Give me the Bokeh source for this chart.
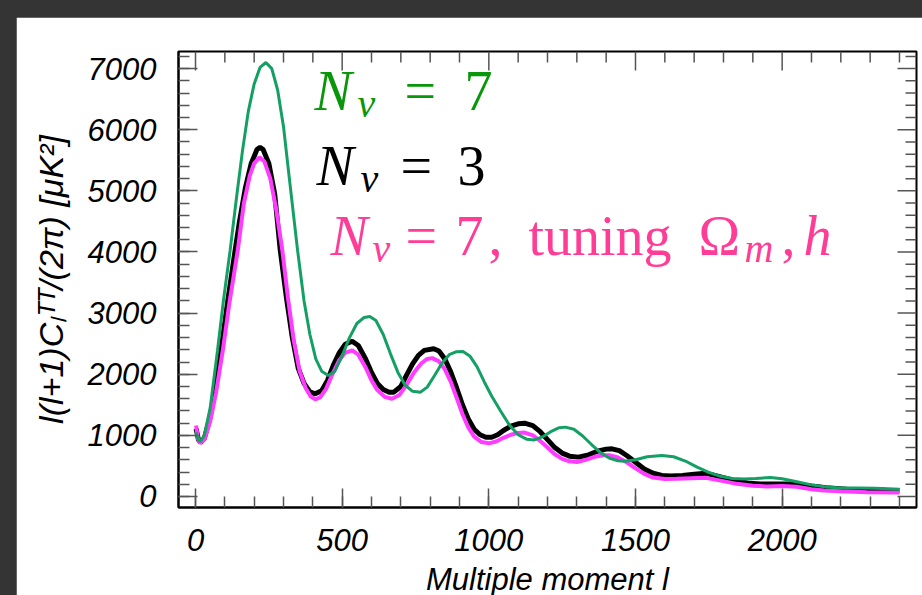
import numpy as np
from bokeh.plotting import figure
from bokeh.models import SingleIntervalTicker, Label, Range1d
from bokeh.embed import file_html
from bokeh.resources import INLINE

# ---------------- data ----------------
l_black = [2, 10, 17, 30, 50, 70, 87, 110, 135, 150, 170, 190, 210, 220, 230, 250, 270, 289, 310, 330,
           350, 370, 390, 408, 430, 450, 470, 490, 510, 534, 555, 580, 600, 620, 640, 660, 676, 700,
           720, 740, 760, 780, 812, 830, 850, 870, 890, 910, 930, 950, 970, 990, 1010, 1030, 1050,
           1075, 1100, 1122, 1150, 1175, 1200, 1225, 1250, 1275, 1305, 1340, 1370, 1400, 1420, 1445,
           1470, 1500, 1530, 1560, 1590, 1620, 1660, 1700, 1740, 1790, 1840, 1890, 1925, 1980, 2040,
           2100, 2150, 2220, 2290, 2350, 2400]
c_black = [1110, 930, 880, 950, 1300, 1850, 2390, 3200, 4026, 4500, 5050, 5450, 5680, 5710, 5680, 5450,
           4950, 4026, 3250, 2600, 2100, 1850, 1710, 1680, 1730, 1900, 2150, 2350, 2490, 2540, 2470,
           2250, 2030, 1850, 1750, 1705, 1707, 1800, 1990, 2170, 2310, 2390, 2417, 2380, 2250, 2040,
           1780, 1500, 1270, 1100, 1010, 970, 970, 1010, 1080, 1150, 1190, 1200, 1160, 1060, 930, 800,
           710, 660, 644, 680, 740, 775, 780, 750, 670, 560, 450, 380, 345, 335, 345, 365, 380, 320,
           260, 215, 205, 205, 205, 170, 142, 120, 110, 102, 98]

l_tuned = [2, 8, 15, 30, 50, 70, 93, 115, 144, 165, 185, 200, 218, 235, 255, 275, 296, 315, 335, 355,
           375, 392, 408, 425, 445, 465, 490, 510, 534, 555, 580, 600, 620, 645, 670, 695, 720, 745,
           770, 790, 807, 830, 850, 870, 890, 910, 930, 950, 975, 1000, 1025, 1050, 1075, 1100, 1122,
           1150, 1175, 1200, 1225, 1250, 1275, 1301, 1330, 1360, 1390, 1410, 1440, 1470, 1500, 1530,
           1560, 1600, 1640, 1690, 1740, 1790, 1846, 1900, 1948, 2000, 2050, 2100, 2142, 2200, 2289,
           2400]
c_tuned = [1160, 950, 870, 930, 1230, 1700, 2390, 3150, 4026, 4800, 5250, 5450, 5550, 5480, 5200, 4700,
           4026, 3250, 2550, 2050, 1780, 1640, 1590, 1620, 1760, 1980, 2230, 2350, 2390, 2320, 2110,
           1900, 1740, 1630, 1599, 1660, 1830, 2030, 2180, 2250, 2264, 2210, 2080, 1880, 1620, 1350,
           1130, 980, 890, 870, 900, 960, 1010, 1040, 1045, 1000, 910, 800, 690, 615, 575, 565, 600,
           650, 675, 675, 640, 560, 460, 370, 310, 285, 290, 300, 305, 260, 207, 175, 164, 170, 160,
           120, 98, 85, 70, 65]

l_seven = [2, 10, 17, 30, 50, 75, 95, 118, 140, 160, 180, 200, 220, 240, 260, 280, 300, 320, 348, 370,
           390, 410, 430, 453, 475, 500, 525, 550, 575, 594, 615, 640, 665, 690, 715, 740, 767, 790,
           815, 840, 865, 890, 912, 935, 960, 985, 1010, 1040, 1070, 1100, 1130, 1155, 1185, 1215,
           1240, 1261, 1290, 1320, 1350, 1380, 1410, 1440, 1465, 1500, 1540, 1590, 1630, 1670, 1710,
           1750, 1790, 1830, 1870, 1910, 1960, 2000, 2050, 2100, 2150, 2200, 2260, 2320, 2400]
c_seven = [1050, 920, 900, 1000, 1450, 2390, 3200, 4026, 4900, 5650, 6300, 6750, 7020, 7100, 7000, 6650,
           6050, 5200, 4026, 3200, 2650, 2250, 2050, 1980, 2050, 2300, 2600, 2830, 2930, 2946, 2880,
           2650, 2330, 2030, 1820, 1720, 1707, 1790, 1980, 2180, 2320, 2370, 2373, 2300, 2120, 1870,
           1640, 1400, 1170, 1010, 935, 925, 980, 1070, 1125, 1135, 1100, 990, 850, 720, 630, 585,
           575, 600, 650, 671, 650, 580, 480, 395, 330, 295, 285, 295, 310, 290, 240, 190, 155, 140,
           140, 135, 118]

x_interval = 500
y_interval = 1000
x_minor_step = 100
y_minor_step = 200
x_lo, x_hi = -58, 2458
y_lo, y_hi = -180, 7280

x_label_text = "Multiple moment l"
y_label_text = "l(l+1)C\u2097\u1d40\u1d40/(2\u03c0) [\u03bcK\u00b2]"

# ---------------- figure ----------------
FONT = "Liberation Sans"
SERIF = "Liberation Serif"
TICK_COLOR = "#555555"

p = figure(width=906, height=590, output_backend="svg", toolbar_location=None,
           x_range=Range1d(x_lo, x_hi), y_range=Range1d(y_lo, y_hi),
           min_border_left=162, min_border_right=6, min_border_top=34, min_border_bottom=100,
           background_fill_color="white", border_fill_color="white")
p.xgrid.visible = False
p.ygrid.visible = False
p.outline_line_color = "black"
p.outline_line_width = 2

for ax, interval in ((p.xaxis[0], x_interval), (p.yaxis[0], y_interval)):
    ax.ticker = SingleIntervalTicker(interval=interval, num_minor_ticks=5)
    ax.axis_line_color = "black"
    ax.axis_line_width = 2
    ax.major_tick_in = 19
    ax.major_tick_out = 0
    ax.minor_tick_in = 11
    ax.minor_tick_out = 0
    ax.major_tick_line_color = TICK_COLOR
    ax.minor_tick_line_color = TICK_COLOR
    ax.major_tick_line_width = 1.5
    ax.minor_tick_line_width = 1.5
    ax.major_label_text_font = FONT
    ax.major_label_text_font_style = "italic"
    ax.major_label_text_font_size = "31px"
    ax.major_label_text_color = "black"
    ax.axis_label_text_font = FONT
    ax.axis_label_text_font_style = "italic"
    ax.axis_label_text_color = "black"

p.xaxis.major_label_standoff = 21
p.xaxis.axis_label = x_label_text
p.xaxis.axis_label_text_font_size = "31px"
p.xaxis.axis_label_standoff = 8
p.yaxis.major_label_standoff = 22
p.yaxis.axis_label = y_label_text
p.yaxis.axis_label_text_font_size = "34px"
p.yaxis.axis_label_standoff = 15

# mirrored ticks on the top and right edges (inward)
x_major = np.arange(0, x_hi, x_interval)
x_minor = np.array([v for v in np.arange(0, x_hi, x_minor_step) if v % x_interval])
y_major = np.arange(0, y_hi, y_interval)
y_minor = np.array([v for v in np.arange(0, y_hi, y_minor_step) if v % y_interval])

p.ray(x=x_major, y=np.full(len(x_major), y_hi), length=19, length_units="screen",
      angle=-np.pi / 2, line_color=TICK_COLOR, line_width=1.5)
p.ray(x=x_minor, y=np.full(len(x_minor), y_hi), length=11, length_units="screen",
      angle=-np.pi / 2, line_color=TICK_COLOR, line_width=1.5)
p.ray(x=np.full(len(y_major), x_hi), y=y_major, length=19, length_units="screen",
      angle=np.pi, line_color=TICK_COLOR, line_width=1.5)
p.ray(x=np.full(len(y_minor), x_hi), y=y_minor, length=11, length_units="screen",
      angle=np.pi, line_color=TICK_COLOR, line_width=1.5)

# ---------------- curves ----------------
p.line(l_black, c_black, line_color="black", line_width=5)
p.line(l_tuned, c_tuned, line_color="#ff3cff", line_width=4)
p.line(l_seven, c_seven, line_color="#14a064", line_width=3)

# ---------------- annotation texts ----------------
def px2x(px):
    return (px - 195) / 0.29333

def py2y(py):
    return (496 - py) / 0.06114

def put(text, px, py, color, size, style="normal", font=SERIF, align="left"):
    shift = 0.37 * size
    p.add_layout(Label(x=px2x(px), y=py2y(py - shift), text=text, text_color=color,
                       text_font=font, text_font_size=f"{size}px", text_font_style=style,
                       text_baseline="alphabetic", text_align=align))

G = "#0a960a"
K = "black"
M = "#ff3c96"
BIG = 56
SUB = 40

# line 1
put("N", 314, 111, G, BIG, "italic")
put("\u03bd", 357, 118, G, SUB, "italic")
put("=", 404, 111, G, BIG)
put("7", 464, 111, G, BIG)
# line 2
put("N", 316, 186, K, BIG, "italic")
put("\u03bd", 360, 193, K, SUB, "italic")
put("=", 400, 186, K, BIG)
put("3", 457, 186, K, BIG)
# line 3
put("N", 330, 256, M, BIG, "italic")
put("\u03bd", 372, 263, M, SUB, "italic")
put("=", 405, 256, M, BIG)
put("7", 455, 256, M, BIG)
put(",", 488, 256, M, BIG)
put("tuning", 528, 256, M, BIG)
put("\u03a9", 698, 256, M, BIG)
put("m", 744, 263, M, SUB, "italic")
put(",", 781, 256, M, BIG)
put("h", 803, 256, M, BIG, "italic")

html = file_html(p, INLINE)
css = "<style>html,body{overflow:hidden;}body{margin:17px 0 0 16px;background:#343434;}</style>"
html = html.replace("</head>", css + "</head>", 1)
open("out.html", "w").write(html)
